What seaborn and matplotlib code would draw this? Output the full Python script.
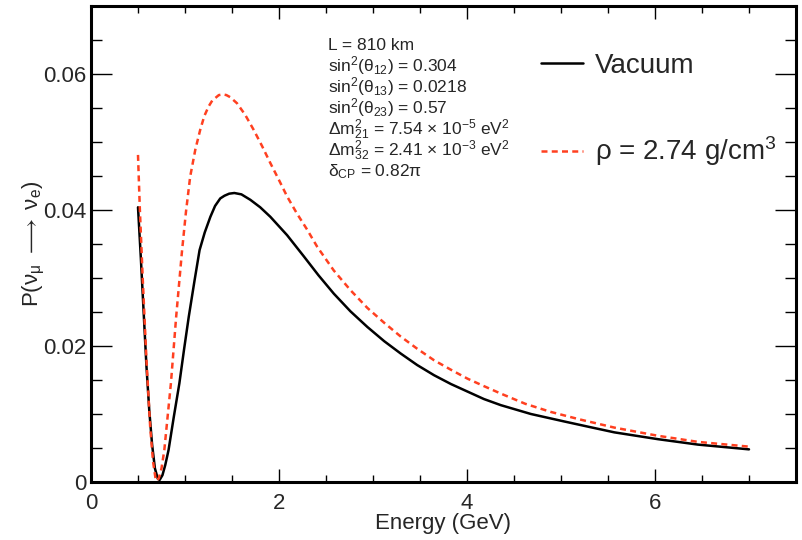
import numpy as np
import pandas as pd
import matplotlib
matplotlib.use("Agg")
import matplotlib.pyplot as plt
import seaborn as sns

# ---- data ----
energy_vac = [0.50, 0.53, 0.56, 0.59, 0.62, 0.65, 0.68, 0.71, 0.73, 0.76, 0.79, 0.825,
              0.88, 0.94, 0.99, 1.04, 1.10, 1.155, 1.21, 1.27, 1.32, 1.375, 1.42, 1.47,
              1.525, 1.60, 1.695, 1.80, 1.908, 2.086, 2.263, 2.42, 2.583, 2.76, 2.94,
              3.12, 3.294, 3.47, 3.65, 3.83, 4.005, 4.18, 4.36, 4.68, 5.035, 5.30,
              5.568, 6.03, 6.457, 7.0]
prob_vac = [0.0404, 0.0330, 0.0250, 0.0170, 0.0105, 0.0055, 0.0020, 0.0005, 0.0003,
            0.0010, 0.0025, 0.0047, 0.0095, 0.0145, 0.0195, 0.0243, 0.0295, 0.0341,
            0.0367, 0.0390, 0.0406, 0.0417, 0.0421, 0.0424, 0.0425, 0.0423, 0.0415,
            0.0404, 0.0390, 0.0363, 0.0332, 0.0304, 0.0277, 0.0251, 0.0228, 0.0207,
            0.0189, 0.0172, 0.0157, 0.0144, 0.0133, 0.0122, 0.0113, 0.0100, 0.0089,
            0.0081, 0.0073, 0.0063, 0.0055, 0.0048]

energy_mat = [0.50, 0.51, 0.52, 0.55, 0.59, 0.63, 0.66, 0.69, 0.72, 0.75, 0.78, 0.85,
              0.906, 0.967, 1.01, 1.055, 1.11, 1.162, 1.205, 1.25, 1.29, 1.36, 1.404,
              1.44, 1.48, 1.553, 1.64, 1.73, 1.82, 1.908, 2.0, 2.086, 2.19, 2.30,
              2.406, 2.583, 2.761, 2.94, 3.12, 3.294, 3.47, 3.65, 3.83, 4.005, 4.18,
              4.36, 4.62, 4.893, 5.20, 5.568, 6.03, 6.457, 7.0]
prob_mat = [0.0481, 0.0440, 0.0400, 0.0300, 0.0180, 0.0080, 0.0030, 0.0002, 0.0005,
            0.0020, 0.0047, 0.0145, 0.0243, 0.0338, 0.0397, 0.0449, 0.0489, 0.0518,
            0.0538, 0.0552, 0.0561, 0.0569, 0.0570, 0.0569, 0.0566, 0.0557, 0.0540,
            0.0518, 0.0494, 0.0469, 0.0444, 0.0420, 0.0395, 0.0371, 0.0346, 0.0311,
            0.0282, 0.0256, 0.0234, 0.0214, 0.0196, 0.0179, 0.0165, 0.0152, 0.0141,
            0.0130, 0.0115, 0.0103, 0.0092, 0.0080, 0.0068, 0.0059, 0.0052]

series_names = ["Vacuum", r"$\rho$ = 2.74 g/cm$^3$"]
x_ticks = [0, 2, 4, 6]
x_tick_labels = ["0", "2", "4", "6"]
y_ticks = [0, 0.02, 0.04, 0.06]
y_tick_labels = ["0", "0.02", "0.04", "0.06"]
info_lines = [
    "L = 810 km",
    r"sin$^2$(θ$_{12}$) = 0.304",
    r"sin$^2$(θ$_{13}$) = 0.0218",
    r"sin$^2$(θ$_{23}$) = 0.57",
    r"Δm$^2_{21}$ = 7.54 × 10$^{-5}$ eV$^2$",
    r"Δm$^2_{32}$ = 2.41 × 10$^{-3}$ eV$^2$",
    r"δ$_{CP}$ = 0.82π",
]

df = pd.concat([
    pd.DataFrame({"E": energy_vac, "P": prob_vac, "series": series_names[0]}),
    pd.DataFrame({"E": energy_mat, "P": prob_mat, "series": series_names[1]}),
], ignore_index=True)

# ---- style ----
sns.set_style("ticks")
plt.rcParams["font.family"] = ["Liberation Sans", "DejaVu Sans"]
plt.rcParams["mathtext.fontset"] = "custom"
plt.rcParams["mathtext.rm"] = "Liberation Sans"
plt.rcParams["mathtext.it"] = "Liberation Sans:italic"
plt.rcParams["mathtext.bf"] = "Liberation Sans:bold"
plt.rcParams["mathtext.default"] = "regular"

fig = plt.figure(figsize=(8.03, 5.40), dpi=100)
W, H = 803, 540
left, right, bottom, top = 91, 796, 482, 6
ax = fig.add_axes([left / W, 1 - bottom / H, (right - left) / W, (bottom - top) / H])

red = "#ff4020"
sns.lineplot(data=df, x="E", y="P", hue="series", style="series",
             palette={series_names[0]: "black", series_names[1]: red},
             dashes={series_names[0]: "", series_names[1]: (2.4, 1.7)},
             linewidth=1.8, estimator=None, legend=False, ax=ax)

ax.set_xlim(0, 7.5)
ax.set_ylim(0, 0.07)
ax.set_xticks(x_ticks)
ax.set_xticklabels(x_tick_labels)
ax.set_yticks(y_ticks)
ax.set_yticklabels(y_tick_labels)
ax.set_xticks(np.arange(0, 7.51, 0.5), minor=True)
ax.set_yticks(np.arange(0, 0.0701, 0.005), minor=True)
ax.tick_params(which="both", direction="in", top=True, right=True, labelsize=16,
               width=1.0, color="black")
ax.tick_params(axis="x", which="major", length=9.5, pad=8)
ax.tick_params(axis="x", which="minor", length=4.8)
ax.tick_params(axis="y", which="major", length=15, pad=3.5)
ax.tick_params(axis="y", which="minor", length=7.7)
for s in ax.spines.values():
    s.set_linewidth(2.2)
    s.set_color("black")

ax.set_xlabel("Energy (GeV)", fontsize=16, labelpad=-1)
ax.set_ylabel(r"P(ν$_{μ}$ $\longrightarrow$ ν$_{e}$)", fontsize=16, labelpad=-3)

# info block
y0 = 50.5
for i, line in enumerate(info_lines):
    fig.text(328 / W, 1 - (y0 + i * 21.0) / H, line, fontsize=12.5, ha="left",
             va="baseline")

# legend
handles = ax.get_lines()[:2]
leg = fig.legend(handles, series_names, loc="upper left",
                 bbox_to_anchor=(541 / W, 1 - 53 / H), bbox_transform=fig.transFigure,
                 frameon=False, fontsize=20, handlelength=1.5, handletextpad=0.45,
                 labelspacing=2.0, borderpad=0, borderaxespad=0)

fig.savefig("out.png", dpi=100)
